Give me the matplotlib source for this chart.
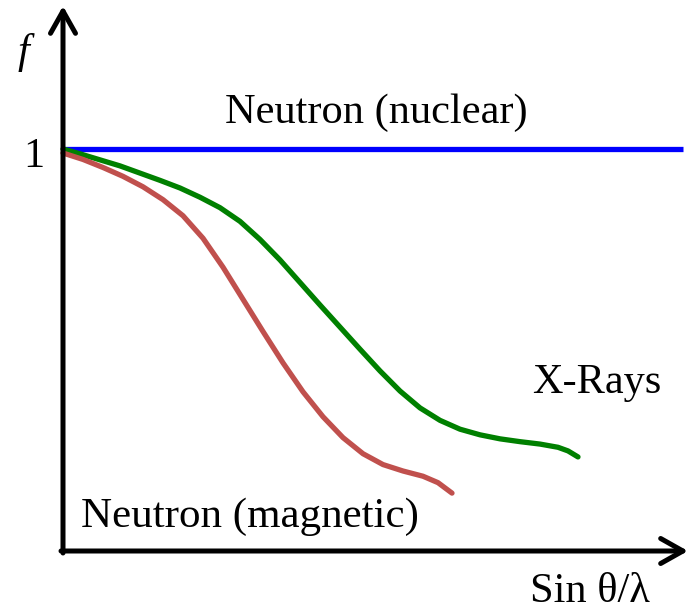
import matplotlib.pyplot as plt
import numpy as np

# form factor f versus sin(theta)/lambda (arbitrary units)
nuclear_x = [0.0, 1.24]
nuclear_f = [1.0, 1.0]

xray_x = [0.0, 0.034, 0.074, 0.114, 0.154, 0.194, 0.234, 0.274, 0.314, 0.354,
          0.394, 0.434, 0.474, 0.514, 0.554, 0.594, 0.634, 0.674, 0.714, 0.754,
          0.794, 0.834, 0.874, 0.914, 0.954, 0.99, 1.01, 1.03]
xray_f = [1.0, 0.988, 0.973, 0.958, 0.940, 0.922, 0.903, 0.880, 0.854, 0.820,
          0.775, 0.724, 0.668, 0.612, 0.557, 0.502, 0.448, 0.398, 0.356, 0.325,
          0.303, 0.289, 0.279, 0.272, 0.266, 0.258, 0.249, 0.234]

magnetic_x = [0.0, 0.04, 0.08, 0.12, 0.16, 0.20, 0.24, 0.28, 0.32, 0.36, 0.40,
              0.44, 0.48, 0.52, 0.56, 0.60, 0.64, 0.68, 0.72, 0.75, 0.778]
magnetic_f = [0.99, 0.974, 0.954, 0.932, 0.906, 0.874, 0.834, 0.778, 0.706, 0.626,
              0.546, 0.468, 0.396, 0.334, 0.282, 0.242, 0.215, 0.199, 0.186, 0.170,
              0.144]

SERIF = ['Liberation Serif', 'DejaVu Serif']

fig = plt.figure(figsize=(6.89, 6.11), dpi=100)
ax = fig.add_axes([0, 0, 1, 1])
ax.set_xlim(-63 / 500, (689 - 63) / 500)
ax.set_ylim((551 - 611) / 402, 551 / 402)
ax.axis('off')


def pos(px, py):
    # pixel position in the picture -> data units
    return (px - 63) / 500, (551 - py) / 402


ax.plot(nuclear_x, nuclear_f, color='#0000ff', lw=3.8, solid_capstyle='butt', zorder=3)
ax.plot(xray_x, xray_f, color='#008000', lw=3.8, solid_capstyle='round',
        solid_joinstyle='round', zorder=3)
ax.plot(magnetic_x, magnetic_f, color='#c0504d', lw=3.8, solid_capstyle='round',
        solid_joinstyle='round', zorder=3)

arrow = dict(arrowstyle='->,head_length=0.8,head_width=0.45', lw=3.6,
             color='black', shrinkA=0, shrinkB=0, mutation_scale=20)
ax.annotate('', xy=pos(63, 6), xytext=pos(63, 553), arrowprops=arrow, zorder=4)
ax.annotate('', xy=pos(688, 551), xytext=pos(61, 551), arrowprops=arrow, zorder=4)

fs = 30.5
ax.text(*pos(225, 123), 'Neutron (nuclear)', family=SERIF, fontsize=fs, va='baseline')
ax.text(*pos(532, 393), 'X-Rays', family=SERIF, fontsize=fs, va='baseline')
ax.text(*pos(81, 527), 'Neutron (magnetic)', family=SERIF, fontsize=31, va='baseline')
ax.text(*pos(530, 602), 'Sin θ/λ', family=SERIF, fontsize=fs, va='baseline')
ax.text(*pos(44, 167), '1', family=SERIF, fontsize=fs, va='baseline', ha='right')
ax.text(*pos(18, 63), 'f', family=SERIF, fontsize=fs, style='italic', va='baseline')

fig.savefig('out.png', dpi=100)
